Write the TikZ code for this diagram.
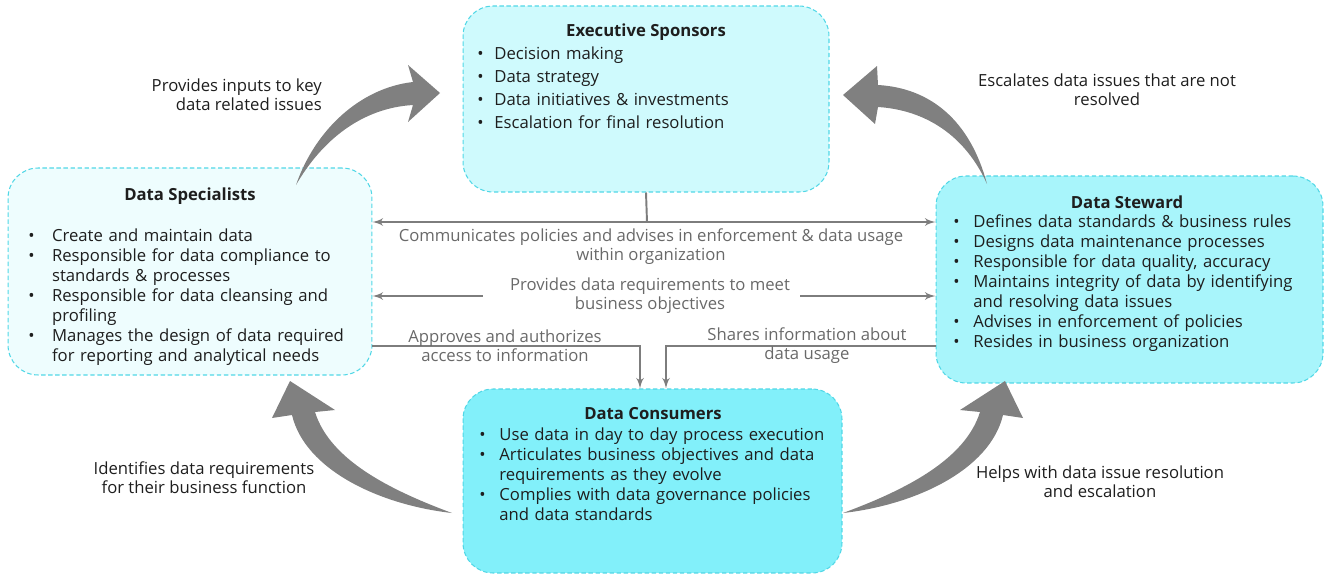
\documentclass[tikz,border=0pt]{standalone}
\usepackage{fontspec}
\setmainfont{Open Sans}
\usepackage{tikz}
\usetikzlibrary{shapes,arrows,positioning}

\definecolor{execfill}{RGB}{207,250,253}
\definecolor{specfill}{RGB}{238,253,254}
\definecolor{stewfill}{RGB}{168,245,251}
\definecolor{consfill}{RGB}{130,240,250}
\definecolor{boxline}{RGB}{80,215,230}
\definecolor{linegray}{RGB}{125,125,125}
\definecolor{labgray}{RGB}{105,105,105}
\definecolor{fatgray}{RGB}{128,128,128}
\definecolor{notetext}{RGB}{30,30,30}

\newlength{\bulw}
\setlength{\bulw}{11.4pt}
\newcommand{\bul}[1]{\hangindent=\bulw\hangafter=1\noindent\makebox[\bulw][l]{\textbullet}#1\par}

\tikzset{
	box/.style={draw=boxline, dashed, dash pattern=on 2.5pt off 1.5pt, rounded corners=0.6cm, line width=0.6pt, inner sep=0pt},
	head/.style={font=\fontsize{9.5}{11.5}\selectfont\bfseries, text=notetext},
	items/.style={font=\fontsize{9.5}{11.4}\selectfont, text=notetext, text width=#1, align=left, anchor=north west, inner sep=0pt},
	conn/.style={draw=linegray, line width=1.1pt},
	lab/.style={font=\fontsize{9.5}{10.8}\selectfont, text=labgray, align=center},
	note/.style={font=\fontsize{9.5}{10.8}\selectfont, text=notetext},
	fat/.style={fill=fatgray}
}

\begin{document}
\begin{tikzpicture}[x=0.02cm, y=-0.02cm]
	\useasboundingbox (0,0) rectangle (1325,575);
	
	% boxes
	\node[box, fill=execfill, minimum width=7.32cm, minimum height=3.72cm] (exec) at (646,99) {};
	\node[box, fill=specfill, minimum width=7.28cm, minimum height=4.14cm] (spec) at (190,271.5) {};
	\node[box, fill=stewfill, minimum width=7.74cm, minimum height=4.14cm] (stew) at (1129.5,279.5) {};
	\node[box, fill=consfill, minimum width=7.58cm, minimum height=3.68cm] (cons) at (652.5,481) {};
	
	% titles and items
	\node[head] (exechead) at (646,32) {Executive Sponsors};
	\node[items=6.8cm] (exectxt) at (477,46) {\setlength{\parskip}{1.7pt}\setlength{\bulw}{9.7pt}%
		\bul{Decision making}\bul{Data strategy}\bul{Data initiatives \& investments}\bul{Escalation for final resolution}};
	
	\node[head] (spechead) at (190,196) {Data Specialists};
	\node[items=6.7cm] (spectxt) at (28,228) {\setlength{\bulw}{13.5pt}%
		\bul{Create and maintain data}\bul{Responsible for data compliance to\newline standards \& processes}%
		\bul{Responsible for data cleansing and\newline profiling}\bul{Manages the design of data required\newline for reporting and analytical needs}};
	
	\node[head] (stewhead) at (1127,202) {Data Steward};
	\node[items=7.2cm] (stewtxt) at (953,214) {%
		\bul{Defines data standards \& business rules}\bul{Designs data maintenance processes}%
		\bul{Responsible for data quality, accuracy}\bul{Maintains integrity of data by identifying\newline and resolving data issues}%
		\bul{Advises in enforcement of policies}\bul{Resides in business organization}};
	
	\node[head] (conshead) at (653,414) {Data Consumers};
	\node[items=7cm] (constxt) at (479,427) {%
		\bul{Use data in day to day process execution}\bul{Articulates business objectives and data\newline requirements as they evolve}%
		\bul{Complies with data governance policies\newline and data standards}};
	
	% connectors between the boxes
	\coordinate (split) at (647,222);
	\draw[conn] (exec.south) -- (split);
	\draw[conn, latex'-latex'] (spec.east |- split) -- (stew.west |- split);
	\node[lab] (comm) at (651,247) {Communicates policies and advises in enforcement \& data usage\\within organization};
	
	\node[lab] (req) at (650,296) {Provides data requirements to meet\\business objectives};
	\draw[conn, -latex'] ([xshift=-0.42cm]req.west) -- (spec.east |- req.west);
	\draw[conn, -latex'] ([xshift=0.08cm]req.east) -- (stew.west |- req.east);
	
	\coordinate (share) at (0,346);
	\draw[conn, -latex'] (spec.east |- share) -| ([xshift=-0.25cm]cons.north);
	\draw[conn, -latex'] (stew.west |- share) -| ([xshift=0.27cm]cons.north);
	\node[lab] (appr) at (505,346) {Approves and authorizes\\access to information};
	\node[lab] (shar) at (807,346) {Shares information about\\data usage};
	
	% big curved arrows
	\fill[fat] (296,185) .. controls (315,130) and (360,88) .. (413,82) -- (408,65) -- (440,93) -- (408,122) -- (413,105) .. controls (362,108) and (322,140) .. (296,185) -- cycle;
	\fill[fat] (987,184) .. controls (970,120) and (930,88) .. (878,85) -- (877,66) -- (843,95) -- (875,124) -- (878,107) .. controls (925,110) and (965,135) .. (987,184) -- cycle;
	\fill[fat] (452,513) .. controls (390,490) and (330,460) .. (315,412) -- (335,410) -- (290,381) -- (272,418) -- (292,415) .. controls (305,470) and (380,505) .. (452,513) -- cycle;
	\fill[fat] (843,513) .. controls (905,490) and (965,460) .. (980,412) -- (960,410) -- (1005,381) -- (1023,418) -- (1003,415) .. controls (990,470) and (915,505) .. (843,513) -- cycle;
	
	% notes
	\node[note, align=right, anchor=east] (inputs) at (328,95) {Provides inputs to key\\data related issues};
	\node[note, align=center] (escal) at (1107,90) {Escalates data issues that are not\\resolved};
	\node[note, align=center] (ident) at (204,478) {Identifies data requirements\\for their business function};
	\node[note, align=center] (helps) at (1100,482) {Helps with data issue resolution\\and escalation};
\end{tikzpicture}
\end{document}
